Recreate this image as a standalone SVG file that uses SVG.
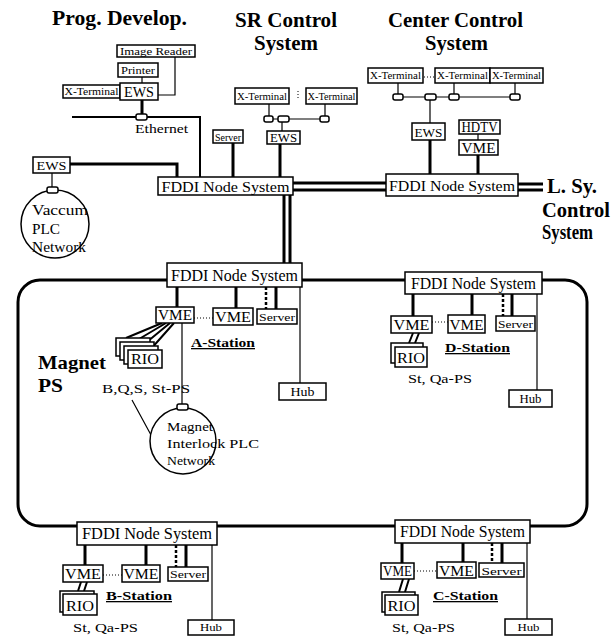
<svg xmlns="http://www.w3.org/2000/svg" width="612" height="636" viewBox="0 0 612 636">
<style>
.t{font-family:"Liberation Serif",serif;fill:#000}
.ti{font-weight:bold;font-size:20px}
.st{font-weight:bold;font-size:13px;text-decoration:underline}
.lb{text-anchor:middle}
.box{fill:#fff;stroke:#000;stroke-width:1.5}
.cn{fill:#fff;stroke:#000;stroke-width:1.5}
.thick{stroke:#000;stroke-width:3;fill:none}
.med{stroke:#000;stroke-width:2;fill:none}
.thin{stroke:#000;stroke-width:1.2;fill:none}
.dash{stroke:#000;stroke-width:2.5;stroke-dasharray:3 2;fill:none}
.dot{stroke:#000;stroke-width:1;stroke-dasharray:1 2;fill:none}
.ring{stroke:#000;stroke-width:3;fill:none}
</style>
<rect width="612" height="636" fill="#fff"/>
<g id="connectors">
  <path class="ring" d="M40 280 H565 A22 22 0 0 1 587 302 V504 A22 22 0 0 1 565 526 H40 A22 22 0 0 1 18 504 V302 A22 22 0 0 1 40 280 Z"/>
  <path class="thick" d="M293 183 H386 M293 190 H386"/>
  <path class="thick" d="M518 184 H543 M518 190 H543"/>
  <path class="thick" d="M284 195 V263 M290 195 V263"/>
  <path class="thin" d="M142 77 V83"/>
  <path class="thin" d="M175 57 V95 H158"/>
  <path class="thick" d="M142 100 V115"/>
  <path class="med" d="M72 117 H200 V177"/>
  <path class="thick" d="M70 164 H177 V177"/>
  <path class="thin" d="M52 173 V188"/>
  <path class="thin" d="M269 104 V116 M325 104 V116 M273 119 H320 M282 122 V131"/>
  <path class="dot" d="M298 91 V98"/>
  <path class="thick" d="M233 143 V177 M280 144 V177"/>
  <path class="thin" d="M398 97 H515 M398 83 V94 M454 83 V94 M515 83 V94 M430 100 V123 M478 134 V140"/>
  <path class="dot" d="M424 77 H434"/>
  <path class="thick" d="M430 140 V174 M478 155 V174"/>
  <path class="thick" d="M177 287 V307 M236 287 V308 M276 287 V309"/>
  <path class="dash" d="M266 287 V309"/>
  <path class="thin" d="M300 287 V383"/>
  <path class="dot" d="M194 318 H213"/>
  <path class="med" d="M162 323 L126 338 M166 323 L134 342 M170 323 L142 346 M174 323 L150 350"/>
  <path class="thin" d="M182 323 V405 M132 400 L151 435"/>
  <path class="thick" d="M413 294 V316 M472 294 V315 M512 294 V316"/>
  <path class="dash" d="M503 294 V316"/>
  <path class="thin" d="M537 294 V390"/>
  <path class="dot" d="M432 322 H448"/>
  <path class="med" d="M413 333 L409 343 M419 333 L415 343"/>
  <path class="thick" d="M85 545 V565 M146 545 V565 M186 545 V567"/>
  <path class="dash" d="M176 545 V567"/>
  <path class="thin" d="M212 545 V620"/>
  <path class="dot" d="M103 575 H122"/>
  <path class="med" d="M81 582 L78 591 M87 582 L84 591"/>
  <path class="thick" d="M402 543 V563 M463 543 V562 M502 543 V563"/>
  <path class="dash" d="M492 543 V563"/>
  <path class="thin" d="M527 543 V619"/>
  <path class="dot" d="M414 571 H437"/>
  <path class="med" d="M403 579 L399 592 M409 579 L405 592"/>
</g>

<g id="titles">
  <text class="t ti" x="52" y="25" textLength="135" lengthAdjust="spacingAndGlyphs">Prog. Develop.</text>
  <text class="t ti" x="235" y="27" textLength="102" lengthAdjust="spacingAndGlyphs">SR Control</text>
  <text class="t ti" x="254" y="50" textLength="64" lengthAdjust="spacingAndGlyphs">System</text>
  <text class="t ti" x="388" y="27" textLength="135" lengthAdjust="spacingAndGlyphs">Center Control</text>
  <text class="t ti" x="425" y="50" textLength="63" lengthAdjust="spacingAndGlyphs">System</text>
  <text class="t ti" x="547" y="193" textLength="50" lengthAdjust="spacingAndGlyphs">L. Sy.</text>
  <text class="t ti" x="542" y="217" textLength="68" lengthAdjust="spacingAndGlyphs">Control</text>
  <text class="t ti" x="542" y="239" textLength="51" lengthAdjust="spacingAndGlyphs">System</text>
  <text class="t" x="38" y="369" font-weight="bold" font-size="19" textLength="68" lengthAdjust="spacingAndGlyphs">Magnet</text>
  <text class="t" x="38" y="392" font-weight="bold" font-size="19" textLength="25" lengthAdjust="spacingAndGlyphs">PS</text>
  <text class="t" x="135" y="133" font-size="12" textLength="53" lengthAdjust="spacingAndGlyphs">Ethernet</text>
</g>

<g id="prog-develop">
  <rect class="box" x="117" y="45" width="78" height="12"/>
  <text class="t lb" x="156" y="55" font-size="11" textLength="72" lengthAdjust="spacingAndGlyphs">Image Reader</text>
  <rect class="box" x="118" y="63" width="40" height="14"/>
  <text class="t lb" x="138" y="74" font-size="11" textLength="34" lengthAdjust="spacingAndGlyphs">Printer</text>
  <rect class="box" x="63" y="85" width="57" height="13"/>
  <text class="t lb" x="91.5" y="95" font-size="10" textLength="54" lengthAdjust="spacingAndGlyphs">X-Terminal</text>
  <rect class="box" x="120" y="83" width="38" height="17"/>
  <text class="t lb" x="139" y="97" font-size="14" textLength="30" lengthAdjust="spacingAndGlyphs">EWS</text>
  <rect class="cn" x="136" y="114" width="11" height="6" rx="2"/>
</g>

<g id="vacuum">
  <rect class="box" x="33" y="157" width="37" height="16"/>
  <text class="t lb" x="51.5" y="170" font-size="13" textLength="30" lengthAdjust="spacingAndGlyphs">EWS</text>
  <circle class="box" cx="55" cy="224" r="34"/>
  <rect class="cn" x="47" y="187" width="11" height="6" rx="2"/>
  <text class="t" x="32" y="215" font-size="15" textLength="56" lengthAdjust="spacingAndGlyphs">Vaccum</text>
  <text class="t" x="32" y="234" font-size="15" textLength="28" lengthAdjust="spacingAndGlyphs">PLC</text>
  <text class="t" x="32" y="252" font-size="15" textLength="54" lengthAdjust="spacingAndGlyphs">Network</text>
</g>

<g id="sr-control">
  <rect class="box" x="235" y="88" width="54" height="16"/>
  <text class="t lb" x="262" y="100" font-size="10" textLength="50" lengthAdjust="spacingAndGlyphs">X-Terminal</text>
  <rect class="box" x="306" y="88" width="51" height="16"/>
  <text class="t lb" x="331.5" y="100" font-size="10" textLength="48" lengthAdjust="spacingAndGlyphs">X-Terminal</text>
  <rect class="cn" x="264" y="116" width="9" height="6" rx="2"/>
  <rect class="cn" x="278" y="116" width="11" height="6" rx="2"/>
  <rect class="cn" x="320" y="116" width="9" height="6" rx="2"/>
  <rect class="box" x="213" y="130" width="30" height="13"/>
  <text class="t lb" x="228" y="140.5" font-size="11" textLength="26" lengthAdjust="spacingAndGlyphs">Server</text>
  <rect class="box" x="267" y="131" width="33" height="13"/>
  <text class="t lb" x="283.5" y="141.5" font-size="13" textLength="27" lengthAdjust="spacingAndGlyphs">EWS</text>
</g>

<g id="center-control">
  <rect class="box" x="368" y="68" width="55" height="15"/>
  <text class="t lb" x="395.5" y="79" font-size="10" textLength="51" lengthAdjust="spacingAndGlyphs">X-Terminal</text>
  <rect class="box" x="435" y="68" width="55" height="15"/>
  <text class="t lb" x="462.5" y="79" font-size="10" textLength="51" lengthAdjust="spacingAndGlyphs">X-Terminal</text>
  <rect class="box" x="490" y="68" width="53" height="15"/>
  <text class="t lb" x="516.5" y="79" font-size="10" textLength="49" lengthAdjust="spacingAndGlyphs">X-Terminal</text>
  <rect class="cn" x="393" y="94" width="10" height="6" rx="2"/>
  <rect class="cn" x="425" y="94" width="11" height="6" rx="2"/>
  <rect class="cn" x="449" y="94" width="10" height="6" rx="2"/>
  <rect class="cn" x="510" y="94" width="10" height="6" rx="2"/>
  <rect class="box" x="412" y="123" width="33" height="17"/>
  <text class="t lb" x="428.5" y="137" font-size="13" textLength="28" lengthAdjust="spacingAndGlyphs">EWS</text>
  <rect class="box" x="459" y="120" width="41" height="14"/>
  <text class="t lb" x="479.5" y="131.5" font-size="14" textLength="36" lengthAdjust="spacingAndGlyphs">HDTV</text>
  <rect class="box" x="459" y="140" width="39" height="15"/>
  <text class="t lb" x="478.5" y="152.5" font-size="14" textLength="34" lengthAdjust="spacingAndGlyphs">VME</text>
</g>

<g id="fddi-top">
  <rect class="box" x="158" y="177" width="135" height="18"/>
  <text class="t lb" x="225.5" y="192" font-size="15" textLength="128" lengthAdjust="spacingAndGlyphs">FDDI Node System</text>
</g>
<g id="fddi-center">
  <rect class="box" x="386" y="174" width="132" height="22"/>
  <text class="t lb" x="452" y="191" font-size="15" textLength="126" lengthAdjust="spacingAndGlyphs">FDDI Node System</text>
</g>

<g id="a-station">
  <rect class="box" x="167" y="263" width="135" height="24"/>
  <text class="t lb" x="234.5" y="281" font-size="16" textLength="127" lengthAdjust="spacingAndGlyphs">FDDI Node System</text>
  <rect class="box" x="156" y="307" width="38" height="16"/>
  <text class="t lb" x="175" y="320" font-size="14" textLength="34" lengthAdjust="spacingAndGlyphs">VME</text>
  <rect class="box" x="213" y="308" width="40" height="17"/>
  <text class="t lb" x="233" y="322" font-size="15" textLength="36" lengthAdjust="spacingAndGlyphs">VME</text>
  <rect class="box" x="257" y="309" width="40" height="15"/>
  <text class="t lb" x="277" y="320.5" font-size="11" textLength="36" lengthAdjust="spacingAndGlyphs">Server</text>
  <rect class="box" x="116" y="338" width="34" height="18"/>
  <rect class="box" x="120" y="342" width="34" height="18"/>
  <rect class="box" x="124" y="346" width="34" height="18"/>
  <rect class="box" x="128" y="350" width="34" height="18"/>
  <text class="t lb" x="145" y="364" font-size="15" textLength="28" lengthAdjust="spacingAndGlyphs">RIO</text>
  <text class="t st" x="191" y="347" textLength="64" lengthAdjust="spacingAndGlyphs">A-Station</text>
  <text class="t" x="102" y="393" font-size="13" textLength="88" lengthAdjust="spacingAndGlyphs">B,Q,S, St-PS</text>
  <rect class="box" x="279" y="383" width="47" height="17"/>
  <text class="t lb" x="302.5" y="396" font-size="12" textLength="24" lengthAdjust="spacingAndGlyphs">Hub</text>
</g>

<g id="magnet-interlock">
  <circle class="box" cx="183" cy="441" r="33"/>
  <rect class="cn" x="177" y="404" width="11" height="6" rx="2"/>
  <text class="t" x="167" y="431" font-size="13" textLength="46" lengthAdjust="spacingAndGlyphs">Magnet</text>
  <text class="t" x="167" y="448" font-size="13" textLength="92" lengthAdjust="spacingAndGlyphs">Interlock PLC</text>
  <text class="t" x="167" y="465" font-size="13" textLength="48" lengthAdjust="spacingAndGlyphs">Network</text>
</g>

<g id="d-station">
  <rect class="box" x="405" y="272" width="137" height="22"/>
  <text class="t lb" x="473.5" y="289" font-size="16" textLength="125" lengthAdjust="spacingAndGlyphs">FDDI Node System</text>
  <rect class="box" x="391" y="316" width="41" height="17"/>
  <text class="t lb" x="411.5" y="330" font-size="15" textLength="36" lengthAdjust="spacingAndGlyphs">VME</text>
  <rect class="box" x="448" y="315" width="37" height="18"/>
  <text class="t lb" x="466.5" y="330" font-size="15" textLength="34" lengthAdjust="spacingAndGlyphs">VME</text>
  <rect class="box" x="496" y="316" width="39" height="15"/>
  <text class="t lb" x="515.5" y="327.5" font-size="11" textLength="35" lengthAdjust="spacingAndGlyphs">Server</text>
  <rect class="box" x="391" y="343" width="32" height="20"/>
  <rect class="box" x="395" y="347" width="32" height="20"/>
  <text class="t lb" x="411" y="363" font-size="15" textLength="28" lengthAdjust="spacingAndGlyphs">RIO</text>
  <text class="t st" x="445" y="352" textLength="65" lengthAdjust="spacingAndGlyphs">D-Station</text>
  <text class="t" x="408" y="383" font-size="13" textLength="64" lengthAdjust="spacingAndGlyphs">St, Qa-PS</text>
  <rect class="box" x="509" y="390" width="43" height="17"/>
  <text class="t lb" x="530.5" y="403" font-size="12" textLength="22" lengthAdjust="spacingAndGlyphs">Hub</text>
</g>

<g id="b-station">
  <rect class="box" x="77" y="522" width="140" height="23"/>
  <text class="t lb" x="147" y="539" font-size="16" textLength="130" lengthAdjust="spacingAndGlyphs">FDDI Node System</text>
  <rect class="box" x="63" y="565" width="40" height="17"/>
  <text class="t lb" x="83" y="579" font-size="15" textLength="36" lengthAdjust="spacingAndGlyphs">VME</text>
  <rect class="box" x="122" y="565" width="38" height="17"/>
  <text class="t lb" x="141" y="579" font-size="15" textLength="35" lengthAdjust="spacingAndGlyphs">VME</text>
  <rect class="box" x="168" y="567" width="40" height="14"/>
  <text class="t lb" x="188" y="578" font-size="11" textLength="36" lengthAdjust="spacingAndGlyphs">Server</text>
  <rect class="box" x="60" y="591" width="34" height="21"/>
  <rect class="box" x="63" y="594" width="34" height="21"/>
  <text class="t lb" x="80" y="611" font-size="15" textLength="28" lengthAdjust="spacingAndGlyphs">RIO</text>
  <text class="t st" x="106" y="600" textLength="66" lengthAdjust="spacingAndGlyphs">B-Station</text>
  <text class="t" x="73" y="632" font-size="13" textLength="65" lengthAdjust="spacingAndGlyphs">St, Qa-PS</text>
  <rect class="box" x="188" y="620" width="46" height="15"/>
  <text class="t lb" x="211" y="631" font-size="11" textLength="22" lengthAdjust="spacingAndGlyphs">Hub</text>
</g>

<g id="c-station">
  <rect class="box" x="395" y="520" width="135" height="23"/>
  <text class="t lb" x="462.5" y="537" font-size="16" textLength="125" lengthAdjust="spacingAndGlyphs">FDDI Node System</text>
  <rect class="box" x="381" y="563" width="33" height="16"/>
  <text class="t lb" x="397.5" y="576" font-size="15" textLength="29" lengthAdjust="spacingAndGlyphs">VME</text>
  <rect class="box" x="437" y="562" width="39" height="16"/>
  <text class="t lb" x="456.5" y="576" font-size="15" textLength="35" lengthAdjust="spacingAndGlyphs">VME</text>
  <rect class="box" x="479" y="563" width="45" height="14"/>
  <text class="t lb" x="501.5" y="574.5" font-size="11" textLength="40" lengthAdjust="spacingAndGlyphs">Server</text>
  <rect class="box" x="382" y="592" width="33" height="20"/>
  <rect class="box" x="385" y="595" width="33" height="20"/>
  <text class="t lb" x="401.5" y="611" font-size="15" textLength="28" lengthAdjust="spacingAndGlyphs">RIO</text>
  <text class="t st" x="433" y="600" textLength="65" lengthAdjust="spacingAndGlyphs">C-Station</text>
  <text class="t" x="392" y="632" font-size="13" textLength="63" lengthAdjust="spacingAndGlyphs">St, Qa-PS</text>
  <rect class="box" x="505" y="619" width="47" height="16"/>
  <text class="t lb" x="528.5" y="631" font-size="11" textLength="22" lengthAdjust="spacingAndGlyphs">Hub</text>
</g>
</svg>
